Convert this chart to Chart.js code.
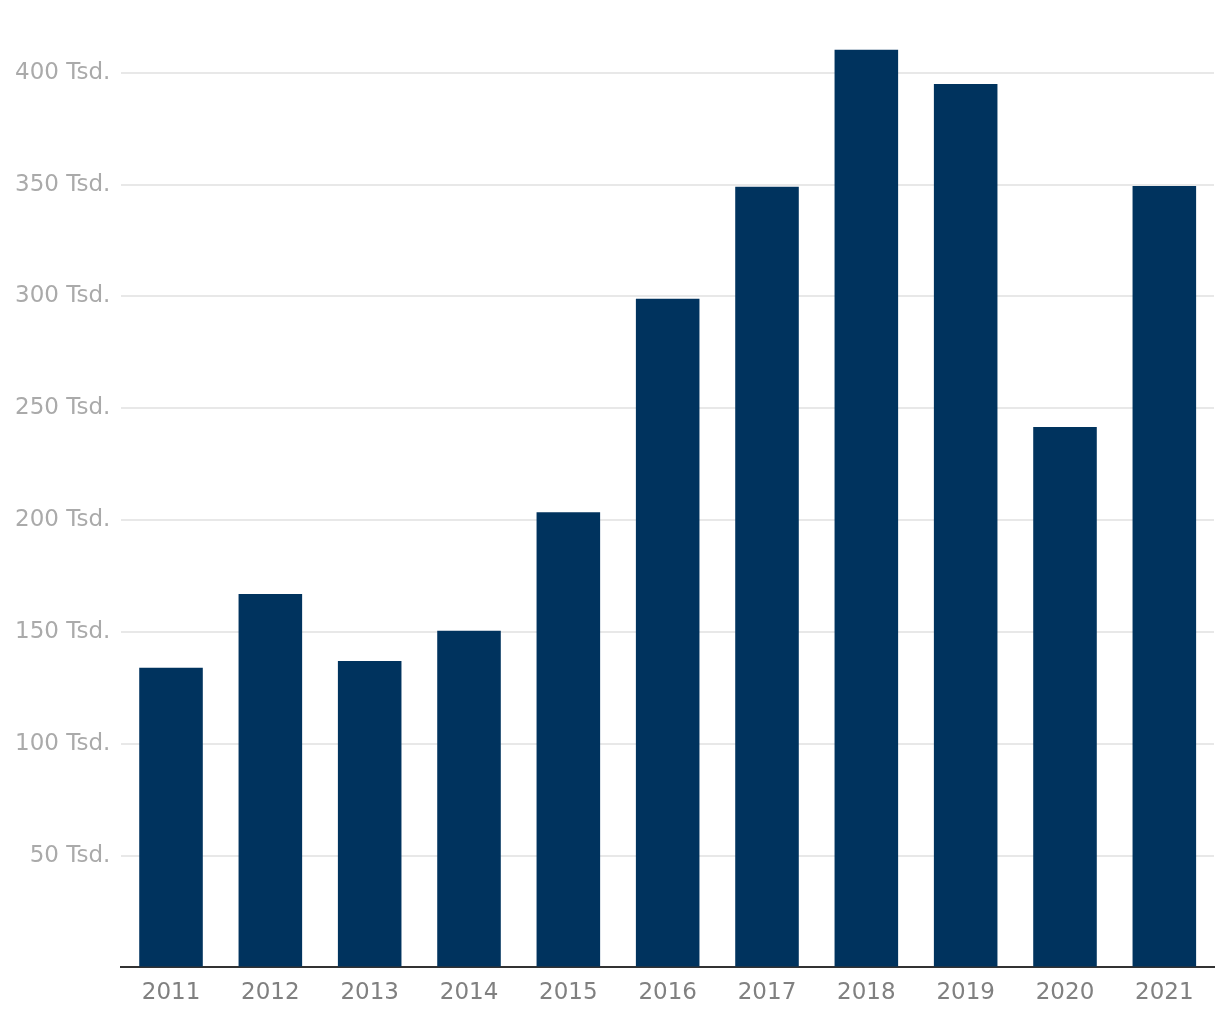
<!DOCTYPE html>
<html>
<head>
<meta charset="utf-8">
<script src="https://cdn.jsdelivr.net/npm/chart.js@4/dist/chart.umd.min.js"></script>
<style>
  html, body { margin: 0; padding: 0; background: #fff; }
  #wrap { width: 1220px; height: 1020px; }
</style>
</head>
<body>
<div id="wrap"><canvas id="report_chart"></canvas></div>
<script>
var years = ['2011', '2012', '2013', '2014', '2015', '2016', '2017', '2018', '2019', '2020', '2021'];
// values in thousands (Tsd.)
var values = [134, 167, 137, 150.5, 203.5, 299, 349, 410.3, 395, 241.6, 349.4];
var yTicks = [50, 100, 150, 200, 250, 300, 350, 400];

var ctx = document.getElementById('report_chart').getContext('2d');
var chart = new Chart(ctx, {
    type: 'bar'
    ,data: {
        labels: years
        ,datasets: [{
            data: values
            ,backgroundColor: '#00335E'
            ,borderWidth: 0
            ,categoryPercentage: 1
            ,barPercentage: 0.64
        }]
    }
    ,options: {
        responsive: true
        ,maintainAspectRatio: false
        ,animation: false
        ,layout: { padding: { left: 4, right: 6, top: 28, bottom: 1 } }
        ,plugins: { legend: { display: false }, tooltip: { enabled: false } }
        ,scales: {
            x: {
                grid: { display: false, drawTicks: false }
                ,border: { display: true, color: '#333333', width: 2 }
                ,ticks: {
                    color: '#808080'
                    ,padding: 12
                    ,maxRotation: 0
                    ,font: { family: 'DejaVu Sans', size: 23 }
                }
            }
            ,y: {
                min: 0
                ,max: 420
                ,border: { display: false }
                ,grid: {
                    color: function(c) { return c.tick && c.tick.value === 0 ? 'rgba(0,0,0,0)' : '#e8e8e8'; }
                    ,lineWidth: 2
                    ,drawTicks: false
                }
                ,afterBuildTicks: function(axis) {
                    axis.ticks = [{ value: 0 }].concat(yTicks.map(function(v) { return { value: v }; }));
                }
                ,ticks: {
                    color: '#aaaaaa'
                    ,padding: 11
                    ,font: { family: 'DejaVu Sans', size: 23 }
                    ,callback: function(v) { return v === 0 ? '' : v + ' Tsd.'; }
                }
            }
        }
    }
});
</script>
</body>
</html>
